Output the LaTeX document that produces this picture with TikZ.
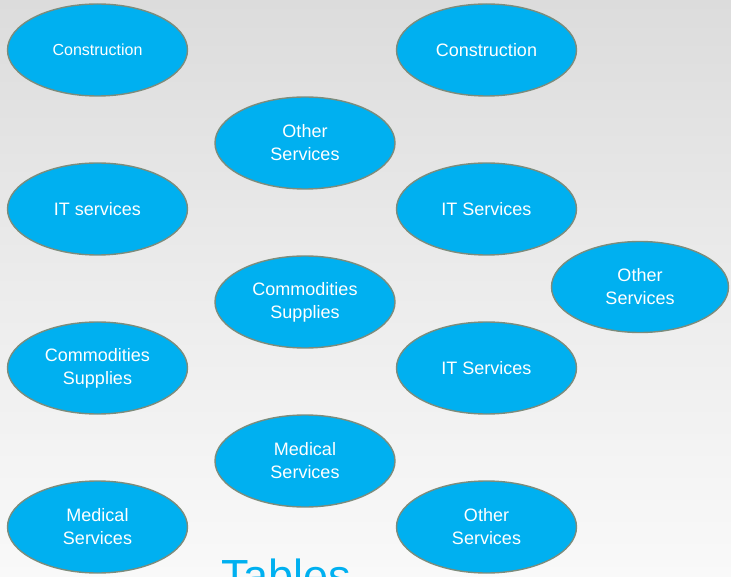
\documentclass[tikz,border=0pt]{standalone}
\usepackage{fontspec}
\setmainfont{Liberation Sans}
\usetikzlibrary{shapes.geometric}
\definecolor{bubble}{HTML}{00B0F0}
\definecolor{rim}{HTML}{7C8C7C}
\definecolor{bgtop}{HTML}{DCDCDC}
\definecolor{bgbot}{HTML}{F9F9F9}
\begin{document}
\begin{tikzpicture}[x=1pt,y=-1pt,
  bub/.style={ellipse,draw=rim,line width=1.4pt,fill=bubble,text=white,
    minimum width=180pt,minimum height=92pt,inner sep=0pt,align=center,
    font=\fontsize{18}{23}\selectfont},
  smalltext/.style={font=\fontsize{16}{20}\selectfont}]
\useasboundingbox (0,0) rectangle (731,577);
\clip (0,0) rectangle (731,577);
\shade[top color=bgtop,bottom color=bgbot,middle color=bgtop!45!bgbot] (0,0) rectangle (731,577);
\node[bub,smalltext] (c1) at (97.5,50) {Construction};
\node[bub] (c2) at (486.5,50) {Construction};
\node[bub] (o1) at (305,143) {Other\\Services};
\node[bub] (it1) at (97.5,209) {IT services};
\node[bub] (it2) at (486.5,209) {IT Services};
\node[bub,minimum width=177pt,minimum height=91pt] (o2) at (640,287) {Other\\Services};
\node[bub] (cs1) at (305,302) {Commodities\\Supplies};
\node[bub] (cs2) at (97.5,368) {Commodities\\Supplies};
\node[bub] (it3) at (486.5,368) {IT Services};
\node[bub] (m1) at (305,461) {Medical\\Services};
\node[bub] (m2) at (97.5,527) {Medical\\Services};
\node[bub] (o3) at (486.5,527) {Other\\Services};
\node[anchor=base west,inner sep=0pt,text=bubble,font=\fontsize{45}{50}\selectfont] (tb) at (221,591) {Tables};
\end{tikzpicture}
\end{document}
